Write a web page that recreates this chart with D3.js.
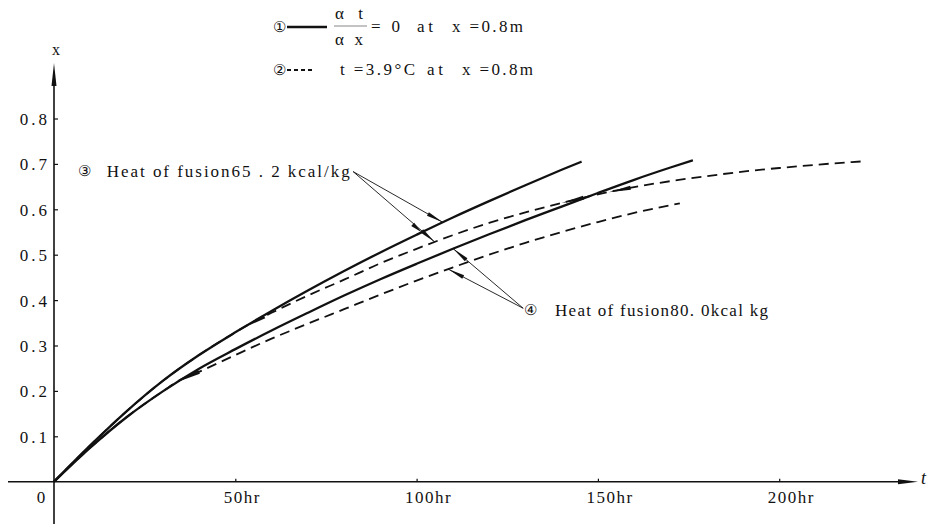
<!DOCTYPE html>
<html>
<head>
<meta charset="utf-8">
<script src="https://cdn.jsdelivr.net/npm/d3@7"></script>
<style>
  body { margin: 0; background: #fff; }
  svg text { font-family: "Liberation Serif", "DejaVu Serif", serif; fill: #111; }
</style>
</head>
<body>
<div id="chart"></div>
<script>
// curve 1: solid, d(t)/dx = 0 at x = 0.8m, heat of fusion 65.2
const t_solid_65 = [0, 10, 20, 30, 40, 50, 60, 70, 80, 90, 100, 110, 120, 130, 140, 145.5];
const x_solid_65 = [0, 0.080, 0.155, 0.222, 0.279, 0.329, 0.376, 0.421, 0.464, 0.505, 0.544, 0.582, 0.618, 0.653, 0.687, 0.705];

// curve 2: dashed, t = 3.9C at x = 0.8m, heat of fusion 65.2
const t_dash_65 = [0, 10, 20, 30, 40, 50, 55, 60, 70, 80, 90, 100, 110, 120, 130, 140, 150, 160, 170, 180, 190, 200, 210, 220, 223.7];
const x_dash_65 = [0, 0.080, 0.155, 0.222, 0.279, 0.329, 0.352, 0.372, 0.410, 0.445, 0.481, 0.513, 0.543, 0.570, 0.593, 0.614, 0.633, 0.649, 0.662, 0.673, 0.683, 0.691, 0.698, 0.704, 0.706];

// curve 3: solid, heat of fusion 80.0
const t_solid_80 = [0, 10, 20, 30, 40, 50, 60, 70, 80, 90, 100, 110, 120, 130, 140, 150, 160, 170, 176.2];
const x_solid_80 = [0, 0.075, 0.142, 0.199, 0.249, 0.292, 0.333, 0.372, 0.410, 0.446, 0.480, 0.513, 0.545, 0.576, 0.606, 0.636, 0.665, 0.692, 0.708];

// curve 4: dashed, heat of fusion 80.0
const t_dash_80 = [0, 10, 20, 30, 35, 40, 50, 60, 70, 80, 90, 100, 110, 120, 130, 140, 150, 160, 172.6];
const x_dash_80 = [0, 0.075, 0.142, 0.199, 0.225, 0.242, 0.279, 0.315, 0.348, 0.380, 0.412, 0.443, 0.472, 0.500, 0.526, 0.550, 0.572, 0.592, 0.613];

// little arrow marks drawn on the curves (hours)
const marks_dash_65 = [55, 143, 156];
const marks_dash_80 = [37];

const x_ticks = [50, 100, 150, 200];
const y_ticks = [0.1, 0.2, 0.3, 0.4, 0.5, 0.6, 0.7, 0.8];

const width = 929, height = 524;
const svg = d3.select("#chart").append("svg")
  .attr("width", width)
  .attr("height", height);

const xScale = d3.scaleLinear().domain([0, 200]).range([54, 779.2]);
const yScale = d3.scaleLinear().domain([0, 0.8]).range([481.7, 118.5]);

function toRows(ts, xs) {
  return ts.map((t, i) => ({t: t, x: xs[i]}));
}

function valueAt(ts, xs, t) {
  return d3.scaleLinear().domain(ts).range(xs)(t);
}

const series = [
  {name: "solid_65", rows: toRows(t_solid_65, x_solid_65), dashed: false},
  {name: "solid_80", rows: toRows(t_solid_80, x_solid_80), dashed: false},
  {name: "dash_65", rows: toRows(t_dash_65, x_dash_65), dashed: true},
  {name: "dash_80", rows: toRows(t_dash_80, x_dash_80), dashed: true}
];

// axes
const x0 = xScale(0), y0 = yScale(0);

svg.append("line")
  .attr("x1", 8).attr("x2", 905)
  .attr("y1", y0).attr("y2", y0)
  .attr("stroke", "#111").attr("stroke-width", 1.6);
svg.append("path")
  .attr("d", `M918,${y0} L898,${y0 - 2.5} L898,${y0 + 2.5} Z`)
  .attr("fill", "#111");

svg.append("line")
  .attr("x1", x0).attr("x2", x0)
  .attr("y1", 524).attr("y2", 80)
  .attr("stroke", "#111").attr("stroke-width", 1.6);
svg.append("path")
  .attr("d", `M${x0},63 L${x0 - 2.5},86 L${x0 + 2.5},86 Z`)
  .attr("fill", "#111");

const yAxis = svg.append("g")
  .attr("transform", `translate(${x0},0)`)
  .call(d3.axisLeft(yScale).tickValues(y_ticks).tickSize(-4).tickPadding(4).tickFormat(d3.format(".1f")));
yAxis.select(".domain").remove();
yAxis.selectAll("line").attr("stroke", "#111").attr("stroke-width", 1.2);
yAxis.selectAll("text")
  .attr("font-size", 17)
  .style("letter-spacing", "3px")
  .attr("dy", "0.35em")
  .attr("fill", "#111");

const xAxis = svg.append("g")
  .attr("transform", `translate(0,${y0})`)
  .call(d3.axisBottom(xScale).tickValues(x_ticks).tickSize(-3).tickFormat(d => d + "hr"));
xAxis.select(".domain").remove();
xAxis.selectAll("line").attr("stroke", "#111").attr("stroke-width", 1.2);
xAxis.selectAll("text")
  .attr("font-size", 17)
  .attr("text-anchor", "start")
  .attr("dx", -12)
  .attr("y", 21.5)
  .attr("dy", 0)
  .style("letter-spacing", "1.5px")
  .attr("fill", "#111");

svg.append("text")
  .attr("x", x0 - 13).attr("y", y0 + 21.5)
  .attr("text-anchor", "middle")
  .attr("font-size", 17)
  .text("0");

svg.append("text")
  .attr("x", x0 + 2).attr("y", 55)
  .attr("text-anchor", "middle")
  .attr("font-size", 16)
  .text("x");

svg.append("text")
  .attr("x", 921).attr("y", 484)
  .attr("font-size", 18)
  .attr("font-style", "italic")
  .text("t");

// curves
const line = d3.line()
  .x(d => xScale(d.t))
  .y(d => yScale(d.x))
  .curve(d3.curveMonotoneX);

svg.selectAll("path.curve")
  .data(series).enter()
  .append("path")
  .attr("class", d => "curve " + d.name)
  .attr("d", d => line(d.rows))
  .attr("fill", "none")
  .attr("stroke", "#111")
  .attr("stroke-width", d => d.dashed ? 1.8 : 2.3)
  .attr("stroke-dasharray", d => d.dashed ? "10,6" : null);

function arrowHead(sx, sy, tx, ty, len, half) {
  const dx = tx - sx, dy = ty - sy;
  const l = Math.sqrt(dx * dx + dy * dy);
  const ux = dx / l, uy = dy / l;
  const bx = tx - ux * len, by = ty - uy * len;
  return `M${tx},${ty} L${bx - uy * half},${by + ux * half} L${bx + uy * half},${by - ux * half} Z`;
}

// small marks on the dashed curves
function drawMarks(hours, ts, xs) {
  hours.forEach(h => {
    const ax = xScale(h - 3), ay = yScale(valueAt(ts, xs, h - 3));
    const bx = xScale(h + 3), by = yScale(valueAt(ts, xs, h + 3));
    svg.append("path")
      .attr("d", arrowHead(bx, by, ax, ay, Math.hypot(bx - ax, by - ay), 2))
      .attr("fill", "#111");
  });
}
drawMarks(marks_dash_65, t_dash_65, x_dash_65);
drawMarks(marks_dash_80, t_dash_80, x_dash_80);

// annotations
const notes = [
  {
    label: "Heat of fusion65 . 2 kcal/kg", circle: "③",
    src: [82.5, 0.683], textX: 106.7, textLen: 243, circleX: 84, baseline: 177,
    targets: [
      {t: 107.2, ts: t_solid_65, xs: x_solid_65},
      {t: 105.0, ts: t_dash_65, xs: x_dash_65, via: {t: 101.4, ts: t_solid_65, xs: x_solid_65}}
    ]
  },
  {
    label: "Heat of fusion80. 0kcal  kg", circle: "④",
    src: [129.4, 0.382], textX: 555, textLen: 213, circleX: 530, baseline: 316,
    targets: [
      {t: 110.1, ts: t_solid_80, xs: x_solid_80},
      {t: 108.7, ts: t_dash_80, xs: x_dash_80}
    ]
  }
];

notes.forEach(n => {
  const sx = xScale(n.src[0]), sy = yScale(n.src[1]);
  n.targets.forEach(tg => {
    const tx = xScale(tg.t), ty = yScale(valueAt(tg.ts, tg.xs, tg.t));
    svg.append("line")
      .attr("x1", sx).attr("y1", sy)
      .attr("x2", tx).attr("y2", ty)
      .attr("stroke", "#111").attr("stroke-width", 0.9);
    svg.append("path")
      .attr("d", arrowHead(sx, sy, tx, ty, 17, 2))
      .attr("fill", "#111");
    if (tg.via) {
      const vx = xScale(tg.via.t), vy = yScale(valueAt(tg.via.ts, tg.via.xs, tg.via.t));
      svg.append("path")
        .attr("d", arrowHead(sx, sy, vx, vy, 12, 2.2))
        .attr("fill", "#111");
    }
  });
  svg.append("text")
    .attr("x", n.circleX).attr("y", n.baseline - 1)
    .attr("text-anchor", "middle")
    .attr("font-family", "DejaVu Sans")
    .attr("font-size", 15)
    .text(n.circle);
  svg.append("text")
    .attr("x", n.textX).attr("y", n.baseline)
    .attr("font-size", 17)
    .attr("textLength", n.textLen)
    .attr("lengthAdjust", "spacing")
    .text(n.label);
});

// legend
const legend = svg.append("g");
legend.append("text")
  .attr("x", 279).attr("y", 32)
  .attr("text-anchor", "middle")
  .attr("font-family", "DejaVu Sans")
  .attr("font-size", 15)
  .text("①");
legend.append("line")
  .attr("x1", 287).attr("x2", 327).attr("y1", 27).attr("y2", 27)
  .attr("stroke", "#111").attr("stroke-width", 2.3);
legend.append("text").attr("x", 335).attr("y", 19).attr("font-size", 17)
  .attr("textLength", 28).attr("lengthAdjust", "spacing").text("α t");
legend.append("line")
  .attr("x1", 334).attr("x2", 367).attr("y1", 26).attr("y2", 26)
  .attr("stroke", "#555").attr("stroke-width", 0.7);
legend.append("text").attr("x", 335).attr("y", 45).attr("font-size", 17)
  .attr("textLength", 28).attr("lengthAdjust", "spacing").text("α x");
legend.append("text").attr("x", 371).attr("y", 32).attr("font-size", 17)
  .attr("textLength", 29).attr("lengthAdjust", "spacing").text("= 0");
legend.append("text").attr("x", 417).attr("y", 32).attr("font-size", 17)
  .attr("textLength", 16).attr("lengthAdjust", "spacing").text("at");
legend.append("text").attr("x", 452).attr("y", 32).attr("font-size", 17)
  .attr("textLength", 71).attr("lengthAdjust", "spacing").text("x =0.8m");

legend.append("text")
  .attr("x", 279).attr("y", 75)
  .attr("text-anchor", "middle")
  .attr("font-family", "DejaVu Sans")
  .attr("font-size", 15)
  .text("②");
legend.append("line")
  .attr("x1", 287).attr("x2", 313).attr("y1", 70).attr("y2", 70)
  .attr("stroke", "#111").attr("stroke-width", 1.8)
  .attr("stroke-dasharray", "4,3");
legend.append("text").attr("x", 340).attr("y", 75).attr("font-size", 17)
  .attr("textLength", 75).attr("lengthAdjust", "spacing").text("t =3.9°C");
legend.append("text").attr("x", 427).attr("y", 75).attr("font-size", 17)
  .attr("textLength", 16).attr("lengthAdjust", "spacing").text("at");
legend.append("text").attr("x", 462).attr("y", 75).attr("font-size", 17)
  .attr("textLength", 71).attr("lengthAdjust", "spacing").text("x =0.8m");
</script>
</body>
</html>
